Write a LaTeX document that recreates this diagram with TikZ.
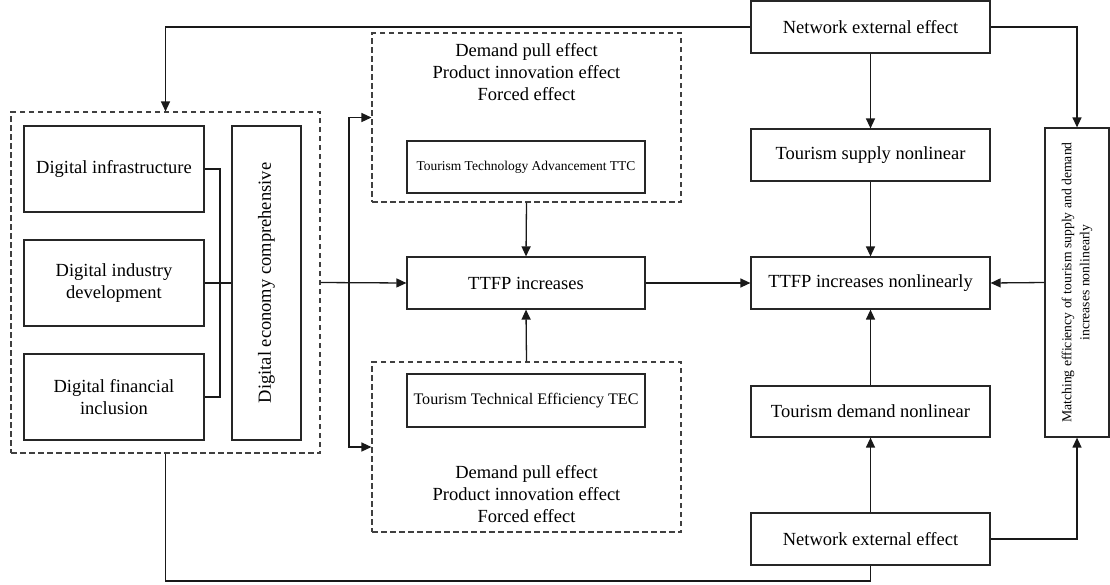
\documentclass[tikz,border=0pt]{standalone}
\usepackage{fontspec}
\setmainfont{Liberation Serif}
\usetikzlibrary{arrows.meta}
\tikzset{
  box/.style={draw=black!85, line width=1.2pt, inner sep=0pt, align=center,
    font=\fontsize{18.5}{22}\selectfont},
  dbox/.style={draw=black!75, line width=1.1pt, dash pattern=on 5.5pt off 3.5pt, inner sep=0pt},
  wire/.style={draw=black!90, line width=1.3pt},
  arr/.style={wire, -{Triangle[length=10pt,width=9pt]}},
  txt/.style={align=center, inner sep=0pt, font=\fontsize{18.5}{22}\selectfont},
}
\begin{document}
\begin{tikzpicture}[x=1pt,y=-1pt]
\useasboundingbox (0,0) rectangle (1110,584);

% digital economy block
\node[dbox, minimum width=309, minimum height=341] (outer) at (165.5,282.5) {};
\node[box, minimum width=180, minimum height=86] (infra) at (114,169) {Digital infrastructure};
\node[box, minimum width=180, minimum height=86] (industry) at (114,283) {Digital industry\\development};
\node[box, minimum width=180, minimum height=86] (fin) at (114,397) {Digital financial\\inclusion};
\node[box, minimum width=69, minimum height=314] (dec) at (266.5,283) {};
\node[txt, rotate=90] (dectxt) at (266.5,283) {Digital economy comprehensive};

% technology channels
\node[dbox, minimum width=309, minimum height=169] (upper) at (526.5,117.5) {};
\node[txt] (uptxt) at (526.5,72) {Demand pull effect\\Product innovation effect\\Forced effect};
\node[box, minimum width=238, minimum height=52, font=\fontsize{13.5}{16}\selectfont] (ttc) at (526,167) {Tourism Technology Advancement TTC};
\node[box, minimum width=238, minimum height=52] (ttfp) at (526,283) {TTFP increases};
\node[dbox, minimum width=309, minimum height=170] (lower) at (526.5,447) {};
\node[box, minimum width=238, minimum height=53, font=\fontsize{16.1}{19}\selectfont] (tec) at (526,400.5) {Tourism Technical Efficiency TEC};
\node[txt] (lowtxt) at (526.5,494) {Demand pull effect\\Product innovation effect\\Forced effect};

% network effects
\node[box, minimum width=239, minimum height=52] (nettop) at (870.5,27) {Network external effect};
\node[box, minimum width=239, minimum height=52] (supply) at (870.5,155) {Tourism supply nonlinear};
\node[box, minimum width=239, minimum height=52] (ttfpnl) at (870.5,283) {TTFP increases nonlinearly};
\node[box, minimum width=239, minimum height=51] (demand) at (870.5,411.5) {Tourism demand nonlinear};
\node[box, minimum width=239, minimum height=52] (netbot) at (870.5,539) {Network external effect};
\node[box, minimum width=64, minimum height=309] (match) at (1077,282.5) {};
\node[align=center, inner sep=0pt, rotate=90, font=\fontsize{13.7}{18}\selectfont] (matchtxt) at (1077,282.5)
  {Matching efficiency of tourism supply and demand\\increases nonlinearly};

% internal bus of the digital economy block
\coordinate (bus) at (220,283);
\draw[wire] (infra.east) -| (bus) |- (fin.east);
\draw[wire] (industry.east) -- (dec.west);

% flows out of the digital economy block
\coordinate (split) at (349,282.5);
\draw[arr] (outer.east) -- (ttfp.west);
\draw[arr] (split) |- (upper.west);
\draw[arr] (split) |- (lower.west);
\draw[arr] (upper.south) -- (ttfp.north);
\draw[arr] (lower.north) -- (ttfp.south);
\draw[arr] (ttfp.east) -- (ttfpnl.west);

% network effect flows
\draw[arr] (nettop.west) -| (outer.north);
\draw[arr] (nettop.east) -| (match.north);
\draw[arr] (nettop.south) -- (supply.north);
\draw[arr] (supply.south) -- (ttfpnl.north);
\draw[arr] (match.west) -- (ttfpnl.east);
\draw[arr] (demand.north) -- (ttfpnl.south);
\draw[arr] (netbot.north) -- (demand.south);
\draw[arr] (netbot.east) -| (match.south);
\coordinate (corner) at (165.5,581);
\draw[wire] (netbot.south) |- (corner) -- (outer.south);
\end{tikzpicture}
\end{document}
